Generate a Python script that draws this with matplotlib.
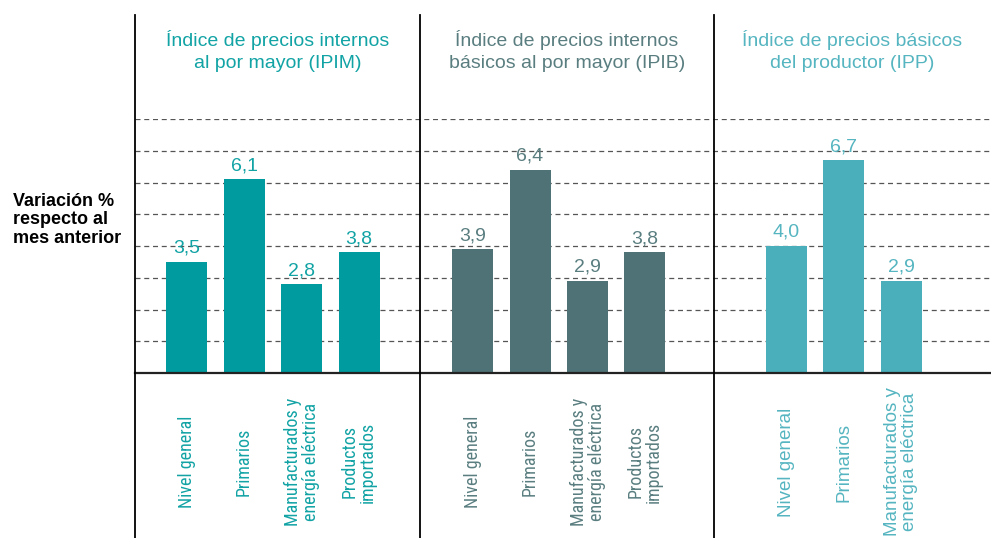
import numpy as np
import matplotlib
matplotlib.use("Agg")
import matplotlib.pyplot as plt
from matplotlib import font_manager

plt.rcParams['font.family'] = ['Liberation Sans', 'DejaVu Sans']

# Datos
titulos = ["Índice de precios internos\nal por mayor (IPIM)",
           "Índice de precios internos\nbásicos al por mayor (IPIB)",
           "Índice de precios básicos\ndel productor (IPP)"]
cat_ipim = ["Nivel general", "Primarios", "Manufacturados y\nenergía eléctrica", "Productos\nimportados"]
cat_ipib = ["Nivel general", "Primarios", "Manufacturados y\nenergía eléctrica", "Productos\nimportados"]
cat_ipp = ["Nivel general", "Primarios", "Manufacturados y\nenergía eléctrica"]
val_ipim = [3.5, 6.1, 2.8, 3.8]
val_ipib = [3.9, 6.4, 2.9, 3.8]
val_ipp = [4.0, 6.7, 2.9]
etiq_ipim = ["3,5", "6,1", "2,8", "3,8"]
etiq_ipib = ["3,9", "6,4", "2,9", "3,8"]
etiq_ipp = ["4,0", "6,7", "2,9"]
ylabel = "Variación %\nrespecto al\nmes anterior"

# fuente condensada si existe, si no Liberation Sans más pequeña
narrow, narrow_size = None, 11.3
for fam in ['Liberation Sans Narrow', 'Roboto Condensed', 'Open Sans Condensed', 'Noto Sans Condensed']:
    try:
        font_manager.findfont(font_manager.FontProperties(family=fam), fallback_to_default=False)
        narrow, narrow_size = fam, 13
        break
    except Exception:
        pass
fam_narrow = [narrow, 'Liberation Sans'] if narrow else ['Liberation Sans']

# Estilo / disposición
col_barra = ["#009B9E", "#4E7275", "#4AAFBA"]
col_texto = ["#12A3A5", "#5A7E80", "#55B5C0"]
fam_cat = [fam_narrow, fam_narrow, ['Liberation Sans']]
size_cat = [narrow_size, narrow_size, 13.5]
divisores = [135, 420, 714]
primer_centro = [186.5, 472.5, 786.5]
paso, ancho = 57.5, 41
x_der = 991

W, H = 991, 538
fig = plt.figure(figsize=(W / 100, H / 100), dpi=100)
base_px, top_px = 373, 119   # baseline y and y=8 gridline (pixels from top)
ax = fig.add_axes([135 / W, (H - base_px) / H, 1 - 135 / W, (base_px - top_px) / H])
ax.set_xlim(135, x_der)
ax.set_ylim(0, 8)
ax.axis('off')
unit = (base_px - top_px) / 8.0

# Rejilla
for g in range(1, 9):
    ax.axhline(g, color="#555555", lw=0.9, linestyle=(0, (4, 3)), zorder=1)
ax.axhline(0, color="#222222", lw=1.6, zorder=4, clip_on=False)

# Divisores verticales
ymax = (base_px - 15) / (base_px - top_px)
ymin = -(H - base_px) / (base_px - top_px)
for d in divisores:
    ax.axvline(d, ymin=ymin, ymax=ymax, color="black", lw=1.3, clip_on=False, zorder=5)

grupos = [(cat_ipim, val_ipim, etiq_ipim), (cat_ipib, val_ipib, etiq_ipib), (cat_ipp, val_ipp, etiq_ipp)]
lims = divisores + [x_der]
for k, (cats, vals, etiqs) in enumerate(grupos):
    xs = primer_centro[k] + paso * np.arange(len(vals))
    ax.bar(xs, vals, width=ancho, color=col_barra[k], zorder=3)
    for x, v, e in zip(xs, vals, etiqs):
        ax.annotate(e, (x, v), xytext=(0, 6.5), textcoords="offset points",
                    ha="center", va="baseline", fontsize=14, color=col_texto[k], zorder=6)
    for x, c in zip(xs, cats):
        ax.text(x, -(462 - base_px) / unit, c, rotation=90, ha="center", va="center",
                multialignment="center", linespacing=1.0, fontsize=size_cat[k],
                color=col_texto[k], family=fam_cat[k], clip_on=False)
    xm = (lims[k] + lims[k + 1]) / 2
    ax.text(xm, (base_px - 51) / unit, titulos[k], ha="center", va="center",
            multialignment="center", linespacing=1.4, fontsize=14,
            color=col_texto[k], clip_on=False)

fig.text(13 / W, 1 - 220 / H, ylabel, ha="left", va="center", fontsize=13,
         fontweight="bold", linespacing=1.15, color="black")

fig.savefig("out.png", dpi=100)
